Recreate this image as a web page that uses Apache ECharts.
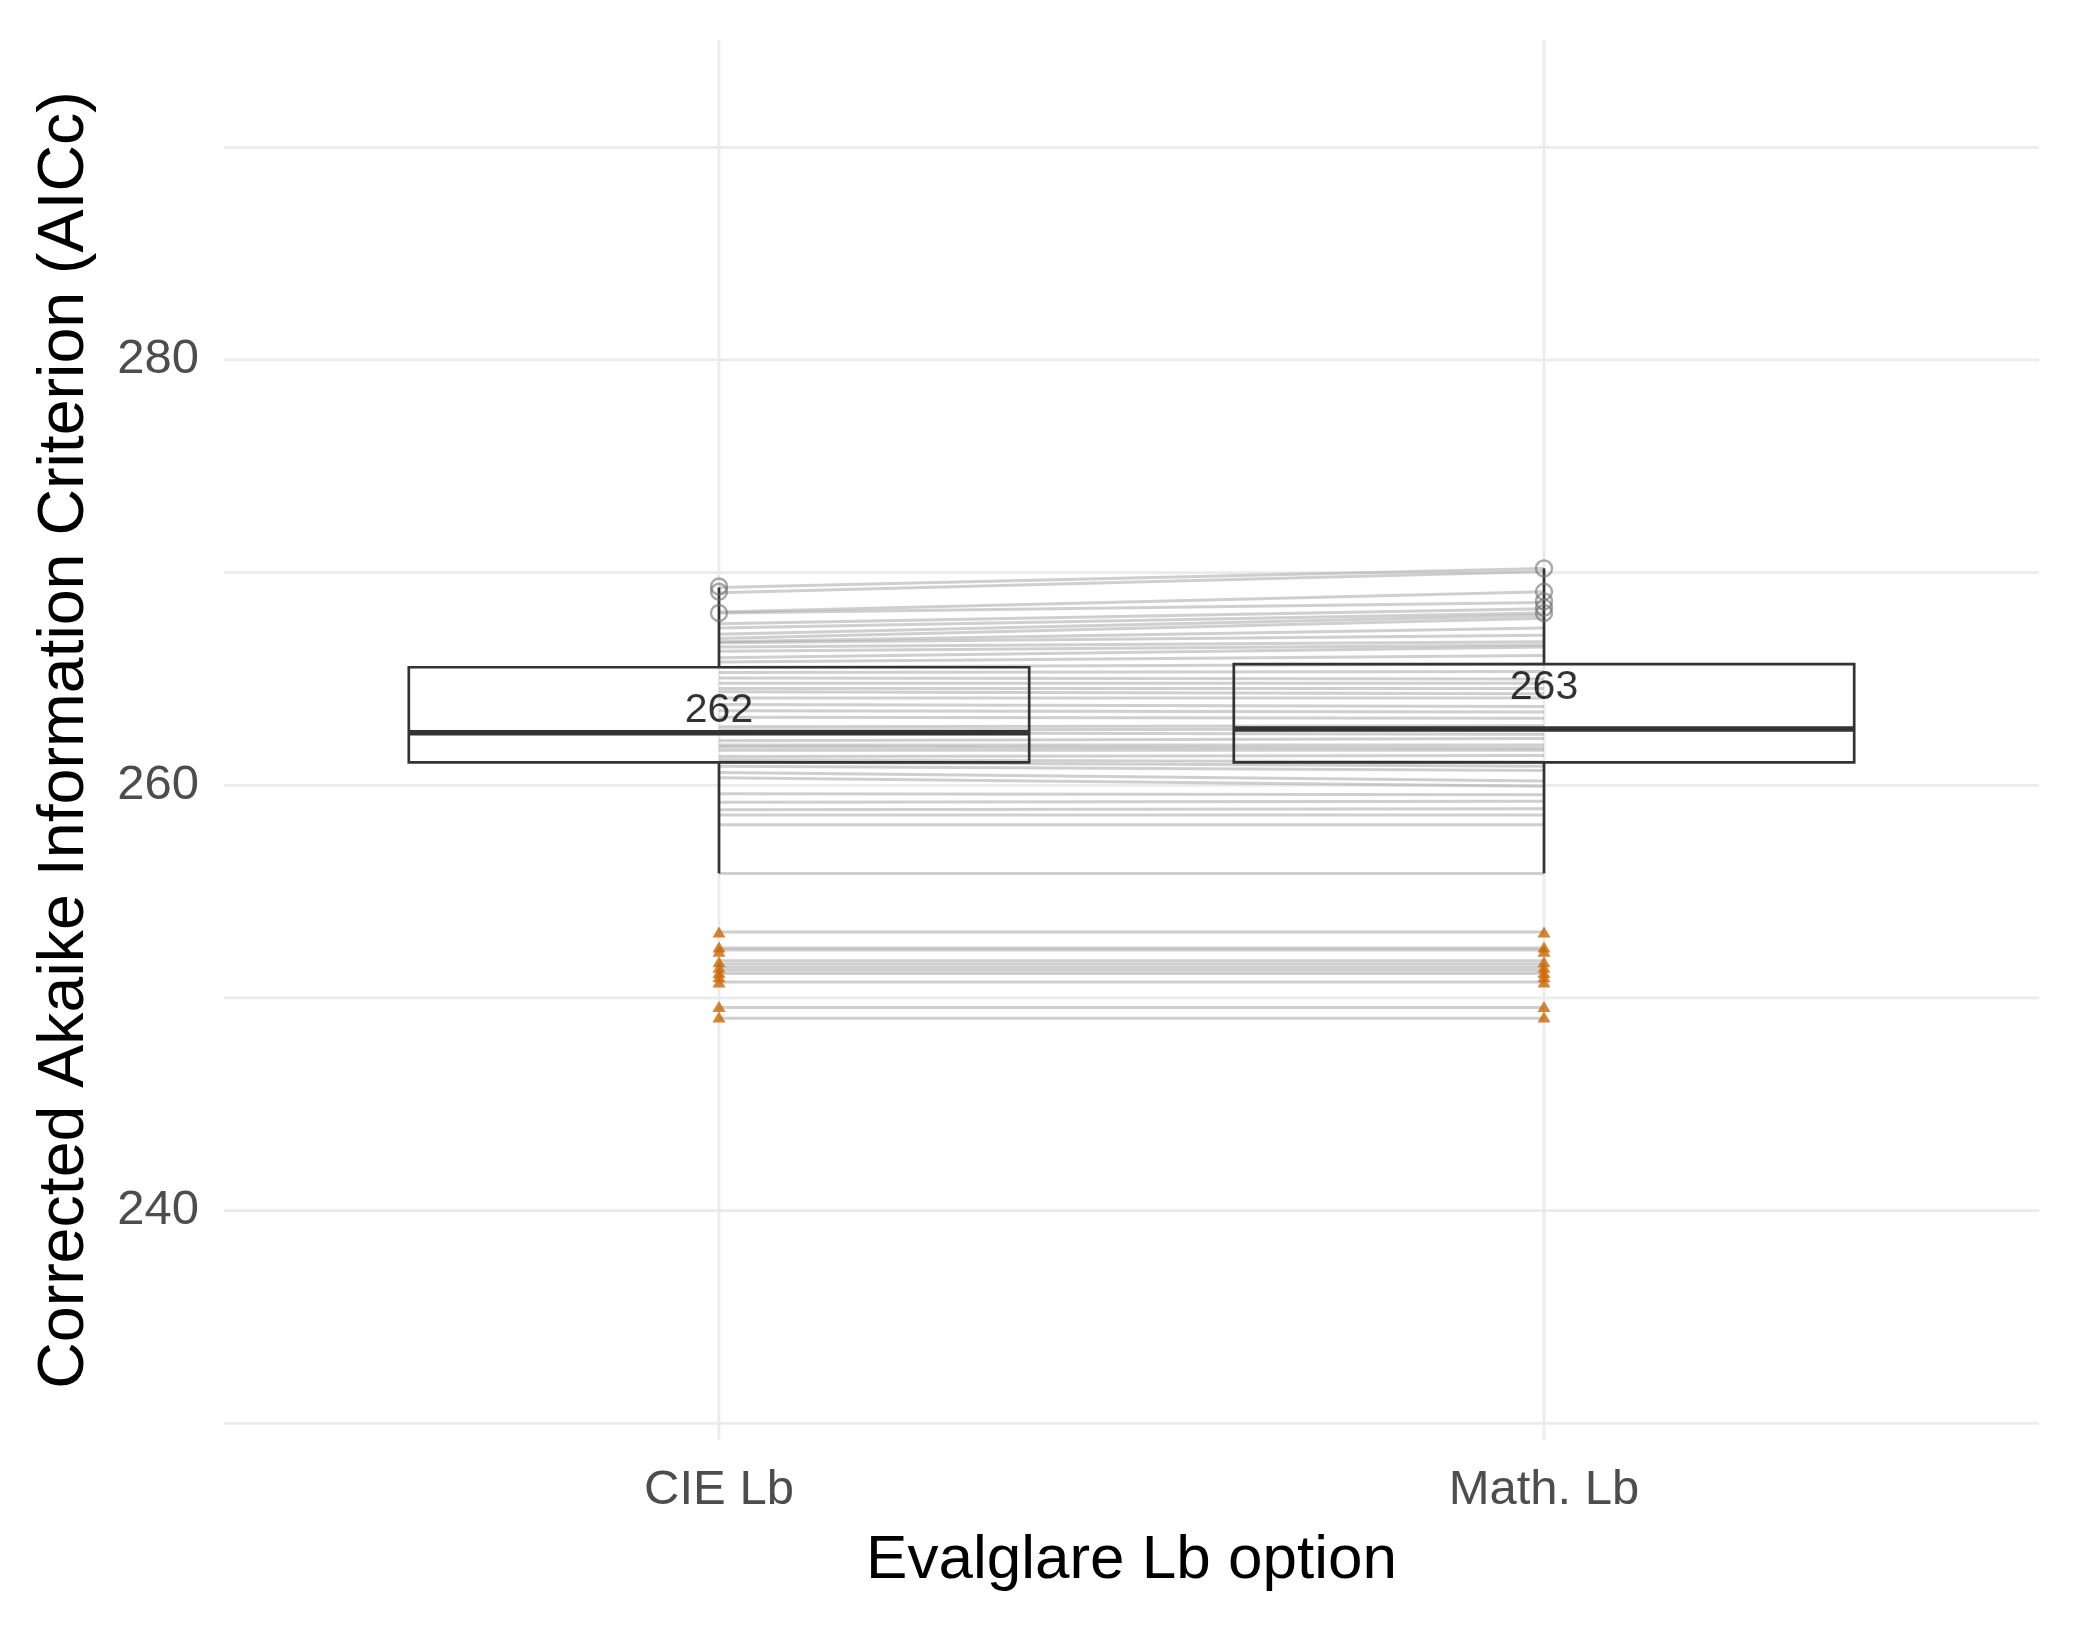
<!DOCTYPE html>
<html>
<head>
<meta charset="utf-8">
<script src="https://cdn.jsdelivr.net/npm/echarts@6/dist/echarts.min.js"></script>
<style>
html,body{margin:0;padding:0;background:#fff;}
#chart{width:2079px;height:1631px;}
</style>
</head>
<body>
<div id="chart"></div>
<script>
// ---------- data ----------
const categories = ['CIE Lb', 'Math. Lb'];
const categoryPositions = [1, 2];
const yTickLabels = [240, 260, 280];
const yGridValues = [230, 240, 250, 260, 270, 280, 290];

// paired observations: value under CIE Lb and the same case under Math. Lb
const cieValues = [269.3, 269.05, 268.15, 268.1, 267.6, 267.4, 267.1, 266.9, 266.75, 266.7, 266.5, 266.3, 266.0,
  265.8, 265.55, 265.3, 265.05, 264.8, 264.55, 264.4, 264.1, 263.8, 263.5, 263.2, 262.75, 262.6, 262.47, 262.1,
  261.9, 261.8, 261.65, 261.35, 261.2, 261.1, 260.9, 260.6, 260.35, 259.6, 259.2, 258.85, 258.6, 258.15, 255.85,
  253.1, 252.35, 252.25, 251.75, 251.6, 251.45, 251.3, 251.15, 250.75, 249.55, 249.05];
const mathValues = [270.2, 270.05, 269.1, 268.6, 268.3, 268.1, 268.0, 267.85, 267.4, 267.05, 266.75, 266.6, 266.5,
  266.1, 265.7, 265.35, 265.0, 264.8, 264.55, 264.3, 264.1, 263.7, 263.45, 263.15, 262.8, 262.65, 262.4, 262.2,
  261.9, 261.75, 261.65, 261.4, 261.1, 260.9, 260.7, 260.2, 259.95, 259.55, 259.25, 258.9, 258.6, 258.15, 255.85,
  253.1, 252.35, 252.25, 251.75, 251.6, 251.45, 251.3, 251.15, 250.75, 249.55, 249.05];

// box statistics per category: [lower whisker, Q1, median, Q3, upper whisker]
const boxStats = [
  [255.86, 261.08, 262.47, 265.55, 269.3],
  [255.86, 261.08, 262.65, 265.70, 270.2]
];
// open grey circles (upper points)
const cieCircles = [269.35, 269.1, 268.1];
const mathCircles = [270.2, 269.1, 268.65, 268.35, 268.1];
// orange triangles (low outliers)
const cieTriangles = [253.1, 252.4, 252.2, 251.7, 251.45, 251.2, 251.0, 250.75, 249.6, 249.1];
const mathTriangles = [253.1, 252.4, 252.2, 251.7, 251.45, 251.2, 251.0, 250.75, 249.6, 249.1];
// median labels and their vertical placement
const medianLabels = ['262', '263'];
const medianLabelY = [263.49, 264.58];

// ---------- chart ----------
const FONT = '"Liberation Sans", Arial, Helvetica, sans-serif';
const BOX_HALF = 0.376;

const pairData = cieValues.map((v, i) => [v, mathValues[i]]);
const boxData = boxStats.map((s, i) => [categoryPositions[i]].concat(s));

const chart = echarts.init(document.getElementById('chart'), null, {renderer: 'canvas'});

const option = {
  animation: false,
  backgroundColor: '#ffffff',
  grid: {left: 224, right: 40, top: 40, bottom: 191, containLabel: false},
  xAxis: {
    type: 'value', min: 0.4, max: 2.6,
    axisLine: {show: false}, axisTick: {show: false}, splitLine: {show: false},
    axisLabel: {
      customValues: categoryPositions,
      formatter: v => categories[categoryPositions.indexOf(Math.round(v))] || '',
      color: '#4d4d4d', fontSize: 49, fontFamily: FONT, margin: 26
    },
    name: 'Evalglare Lb option', nameLocation: 'middle', nameGap: 90,
    nameTextStyle: {color: '#000', fontSize: 62, fontFamily: FONT}
  },
  yAxis: {
    type: 'value', min: 229.215, max: 295.045,
    axisLine: {show: false}, axisTick: {show: false}, splitLine: {show: false},
    axisLabel: {
      customValues: yTickLabels,
      formatter: v => String(v),
      color: '#4d4d4d', fontSize: 49, fontFamily: FONT, margin: 25
    },
    name: 'Corrected Akaike Information Criterion (AICc)', nameLocation: 'middle', nameGap: 126,
    nameTextStyle: {color: '#000', fontSize: 64.5, fontFamily: FONT}
  },
  series: [
    { // horizontal grid lines
      type: 'custom', silent: true, z: 1,
      data: yGridValues.map(v => [1, v]),
      renderItem: (params, api) => {
        const cs = params.coordSys;
        const y = api.coord([1, api.value(1)])[1];
        return {type: 'line', shape: {x1: cs.x, y1: y, x2: cs.x + cs.width, y2: y},
          style: {stroke: '#ebebeb', lineWidth: 2.7}};
      }
    },
    { // vertical grid lines
      type: 'custom', silent: true, z: 1,
      data: categoryPositions.map(v => [v, 260]),
      renderItem: (params, api) => {
        const cs = params.coordSys;
        const x = api.coord([api.value(0), 260])[0];
        return {type: 'line', shape: {x1: x, y1: cs.y, x2: x, y2: cs.y + cs.height},
          style: {stroke: '#ebebeb', lineWidth: 2.7}};
      }
    },
    { // paired lines
      type: 'custom', silent: true, z: 2,
      data: pairData,
      renderItem: (params, api) => {
        const p1 = api.coord([categoryPositions[0], api.value(0)]);
        const p2 = api.coord([categoryPositions[1], api.value(1)]);
        return {type: 'line', shape: {x1: p1[0], y1: p1[1], x2: p2[0], y2: p2[1]},
          style: {stroke: 'rgba(160,160,160,0.5)', lineWidth: 3}};
      }
    },
    { // boxes
      type: 'custom', silent: true, z: 3,
      data: boxData,
      renderItem: (params, api) => {
        const x = api.value(0);
        const mn = api.value(1), q1 = api.value(2), md = api.value(3), q3 = api.value(4), mx = api.value(5);
        const tl = api.coord([x - BOX_HALF, q3]);
        const br = api.coord([x + BOX_HALF, q1]);
        const cMin = api.coord([x, mn]);
        const cMax = api.coord([x, mx]);
        const mL = api.coord([x - BOX_HALF, md]);
        const mR = api.coord([x + BOX_HALF, md]);
        const st = {stroke: '#333333', lineWidth: 2.7, fill: null};
        return {type: 'group', children: [
          {type: 'line', shape: {x1: cMax[0], y1: cMax[1], x2: cMax[0], y2: tl[1]}, style: st},
          {type: 'line', shape: {x1: cMin[0], y1: br[1], x2: cMin[0], y2: cMin[1]}, style: st},
          {type: 'rect', shape: {x: tl[0], y: tl[1], width: br[0] - tl[0], height: br[1] - tl[1]},
            style: {stroke: '#333333', lineWidth: 2.7, fill: 'rgba(0,0,0,0)'}},
          {type: 'line', shape: {x1: mL[0], y1: mL[1], x2: mR[0], y2: mR[1]},
            style: {stroke: '#333333', lineWidth: 5.4}}
        ]};
      }
    },
    { // open circles
      type: 'scatter', z: 4, silent: true,
      symbol: 'circle', symbolSize: 16,
      itemStyle: {color: 'rgba(0,0,0,0)', borderColor: 'rgba(110,110,110,0.75)', borderWidth: 2.4},
      data: cieCircles.map(v => [categoryPositions[0], v]).concat(mathCircles.map(v => [categoryPositions[1], v]))
    },
    { // orange triangles
      type: 'scatter', z: 5, silent: true,
      symbol: 'triangle', symbolSize: [13, 11],
      itemStyle: {color: '#cc6600'},
      data: cieTriangles.map(v => [categoryPositions[0], v]).concat(mathTriangles.map(v => [categoryPositions[1], v]))
    },
    { // median labels
      type: 'scatter', z: 6, silent: true,
      symbolSize: 1, itemStyle: {color: 'rgba(0,0,0,0)'},
      data: categoryPositions.map((x, i) => [x, medianLabelY[i]]),
      label: {show: true, position: 'inside', formatter: p => medianLabels[p.dataIndex],
        color: '#000', fontSize: 41, fontFamily: FONT}
    }
  ]
};
chart.setOption(option);
</script>
</body>
</html>
